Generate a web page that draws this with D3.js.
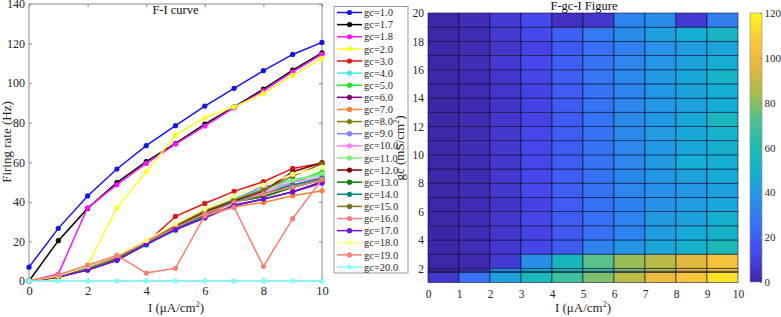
<!DOCTYPE html>
<html lang="en">
<head>
<meta charset="UTF-8">
<title>F-I curve / F-gc-I Figure</title>
<script src="https://d3js.org/d3.v7.min.js"></script>
<style>
body{margin:0;background:#fff}
svg{display:block}
svg text{font-family:"Liberation Serif","Times New Roman",serif}
.axis path{stroke:#8a8a8a}
.axis line{stroke:#8a8a8a}
.axis text{fill:#262626}
</style>
</head>
<body>
<svg id="chart" width="781" height="317"></svg>
<script>
// stimulus currents (µA/cm²) and coupling strengths (mS/cm²)
const currents = [0, 1, 2, 3, 4, 5, 6, 7, 8, 9, 10];
const gcLevels = [1.0, 1.7, 1.8, 2.0, 3.0, 4.0, 5.0, 6.0, 7.0, 8.0, 9.0, 10.0,
                  11.0, 12.0, 13.0, 14.0, 15.0, 16.0, 17.0, 18.0, 19.0, 20.0];

// firing rate (Hz) for each gc, one value per current step
const fr_1_0  = [7, 26.6, 43, 56.6, 68.4, 78.5, 88.4, 97.4, 106.3, 114.5, 120.6];
const fr_1_7  = [0, 20.4, 36.7, 49.7, 60.3, 69.5, 79.3, 88, 97, 106.6, 115.3];
const fr_1_8  = [0, 3.5, 37, 48.7, 59.4, 69.2, 78.3, 87.6, 96.1, 105.7, 114.5];
const fr_2_0  = [0, 1, 8, 37, 55.2, 73.7, 82.5, 88, 94.8, 103.9, 112.5];
const fr_3_0  = [0, 2.5, 7, 12, 19, 32.7, 39.2, 45.3, 50.2, 56.9, 59.5];
const fr_4_0  = [0, 2.5, 6.5, 11, 18, 26, 33, 41.8, 46.5, 51.4, 53.5];
const fr_5_0  = [0, 2.5, 6.5, 11.5, 19, 25.5, 33, 40.9, 43.4, 49.8, 55.2];
const fr_6_0  = [0, 2, 5.5, 10.5, 18.5, 26, 32, 38.4, 41.3, 45.1, 50.2];
const fr_7_0  = [0, 2.5, 7, 12.5, 19.5, 27, 34, 37.5, 39.7, 43.1, 45.6];
const fr_8_0  = [0, 2.5, 7, 12, 19.5, 27.5, 35, 40, 42.6, 47.3, 51.4];
const fr_9_0  = [0, 2.5, 7, 12, 19, 27, 34, 41, 48, 48.5, 52];
const fr_10_0 = [0, 2.5, 7, 12, 19, 27, 34, 40.5, 45, 50, 52.5];
const fr_11_0 = [0, 2.5, 7, 12, 19, 27, 35, 41.5, 46, 51, 54];
const fr_12_0 = [0, 2, 6, 11, 19, 27.5, 35, 40.5, 45.5, 55.2, 59.8];
const fr_13_0 = [0, 2, 6, 11, 19, 27, 34, 40, 42.6, 47.5, 51];
const fr_14_0 = [0, 2, 6, 11, 18.5, 26.5, 33.5, 40, 44, 48.5, 52];
const fr_15_0 = [0, 2, 6, 11.5, 19.5, 28, 35.5, 41, 46, 53, 59.2];
const fr_16_0 = [0, 3, 7.5, 12.5, 19.5, 27, 34, 39.5, 44, 47.5, 51];
const fr_17_0 = [0, 2, 5.5, 10.5, 18.5, 26, 32, 38, 41.5, 45, 49.5];
const fr_18_0 = [0, 2.5, 7.5, 13, 20.5, 29, 36.5, 43, 48.5, 54, 57.4];
const fr_19_0 = [0, 3, 8, 13, 4, 6.4, 33, 37.2, 7.4, 31.5, 51.4];
const fr_20_0 = [0, 0, 0, 0, 0, 0, 0, 0, 0, 0, 0];

const rateRows = [fr_1_0, fr_1_7, fr_1_8, fr_2_0, fr_3_0, fr_4_0, fr_5_0, fr_6_0,
  fr_7_0, fr_8_0, fr_9_0, fr_10_0, fr_11_0, fr_12_0, fr_13_0, fr_14_0, fr_15_0,
  fr_16_0, fr_17_0, fr_18_0, fr_19_0, fr_20_0];

const lineColors = ['#1414f0', '#000000', '#ff10ff', '#ffff1a', '#e81414', '#40e8e8',
  '#28e028', '#80007a', '#ff8030', '#808000', '#8080ff', '#ff80ff', '#80f080',
  '#800000', '#008000', '#008080', '#807010', '#f08080', '#7010e0', '#ffff80',
  '#f88070', '#80ffff'];

const yTicksLeft = [0, 20, 40, 60, 80, 100, 120, 140];
const xTicksLeft = [0, 2, 4, 6, 8, 10];
const yTicksHeat = [2, 4, 6, 8, 10, 12, 14, 16, 18, 20];
const cbTicks = [0, 20, 40, 60, 80, 100, 120];

// parula-like colormap stops
const parulaStops = ['#3e26a8', '#4746eb', '#3a6cf6', '#2a8ceb', '#15aed4', '#1cbcb0',
  '#4cc194', '#a5be4c', '#e6b83c', '#fcc83a', '#f9fb14'];

const svg = d3.select('#chart');

// ---------- left: F-I curve ----------
const x = d3.scaleLinear().domain([0, 10]).range([29, 322]);
const y = d3.scaleLinear().domain([0, 140]).range([281, 4]);

svg.append('rect').attr('x', 29).attr('y', 4).attr('width', 293).attr('height', 277)
  .attr('fill', '#fff').attr('stroke', '#8a8a8a');

svg.append('g').attr('class', 'axis').attr('transform', 'translate(0,281)')
  .call(d3.axisBottom(x).tickValues(xTicksLeft).tickSizeInner(-3).tickSizeOuter(0).tickPadding(5))
  .call(g => g.select('.domain').remove())
  .selectAll('text').attr('font-size', 12.5);
svg.append('g').attr('class', 'axis').attr('transform', 'translate(0,4)')
  .call(d3.axisTop(x).tickValues(xTicksLeft).tickSizeInner(-3).tickSizeOuter(0).tickFormat(''))
  .call(g => g.select('.domain').remove());
svg.append('g').attr('class', 'axis').attr('transform', 'translate(29,0)')
  .call(d3.axisLeft(y).tickValues(yTicksLeft).tickSizeInner(-3).tickSizeOuter(0).tickPadding(4))
  .call(g => g.select('.domain').remove())
  .selectAll('text').attr('font-size', 12);
svg.append('g').attr('class', 'axis').attr('transform', 'translate(322,0)')
  .call(d3.axisRight(y).tickValues(yTicksLeft).tickSizeInner(-3).tickSizeOuter(0).tickFormat(''))
  .call(g => g.select('.domain').remove());

const line = d3.line().x((d, i) => x(currents[i])).y(d => y(d));
const series = svg.append('g').selectAll('g').data(rateRows).join('g');
series.append('path')
  .attr('d', d => line(d))
  .attr('fill', 'none')
  .attr('stroke', (d, i) => lineColors[i])
  .attr('stroke-width', 1.5);
series.each(function (d, k) {
  d3.select(this).selectAll('circle').data(d).join('circle')
    .attr('cx', (v, i) => x(currents[i]))
    .attr('cy', v => y(v))
    .attr('r', 2.6)
    .attr('fill', lineColors[k]);
});

svg.append('text').attr('x', 175.5).attr('y', 14).attr('text-anchor', 'middle')
  .attr('font-size', 12.5).attr('fill', '#111').text('F-I curve');

function unitLabel(sel, base, close) {
  sel.append('tspan').text(base);
  sel.append('tspan').attr('dy', -5).attr('font-size', 8).text('2');
  sel.append('tspan').attr('dy', 5).text(close);
}

svg.append('text').attr('x', 176).attr('y', 312).attr('text-anchor', 'middle')
  .attr('font-size', 13).attr('fill', '#262626')
  .call(unitLabel, 'I (\u03bcA/cm', ')');
svg.append('text').attr('transform', 'translate(10.5,142) rotate(-90)')
  .attr('text-anchor', 'middle').attr('font-size', 13).attr('fill', '#262626')
  .text('Firing rate (Hz)');

// legend
const legY = d3.scalePoint().domain(gcLevels.map(String)).range([12.5, 267]);
const leg = svg.append('g');
leg.append('rect').attr('x', 334).attr('y', 6.5).attr('width', 74).attr('height', 266.5)
  .attr('fill', '#fff').attr('stroke', '#9a9a9a');
const items = leg.selectAll('g.item').data(gcLevels).join('g').attr('class', 'item')
  .attr('transform', d => `translate(0,${legY(String(d))})`);
items.append('line').attr('x1', 337).attr('x2', 362)
  .attr('stroke', (d, i) => lineColors[i]).attr('stroke-width', 1.5);
items.append('circle').attr('cx', 349.5).attr('r', 2.6).attr('fill', (d, i) => lineColors[i]);
items.append('text').attr('x', 364).attr('dy', '0.35em').attr('font-size', 10.5)
  .attr('fill', '#262626').text(d => 'gc=' + d.toFixed(1));

// ---------- right: F-gc-I heatmap ----------
const hx = d3.scaleLinear().domain([0, 10]).range([428, 738]);
const hy = d3.scaleLinear().domain([1, 20]).range([282.5, 13]);
const color = d3.scaleLinear()
  .domain(parulaStops.map((c, i) => 120 * i / (parulaStops.length - 1)))
  .range(parulaStops).interpolate(d3.interpolateRgb).clamp(true);

const cells = [];
for (let r = 0; r < gcLevels.length - 1; r++) {
  for (let c = 0; c < currents.length - 1; c++) {
    cells.push({ r, c, v: rateRows[r][c] });
  }
}
svg.append('g').selectAll('rect').data(cells).join('rect')
  .attr('x', d => hx(currents[d.c]))
  .attr('y', d => hy(gcLevels[d.r + 1]))
  .attr('width', d => hx(currents[d.c + 1]) - hx(currents[d.c]))
  .attr('height', d => hy(gcLevels[d.r]) - hy(gcLevels[d.r + 1]))
  .attr('fill', d => color(d.v))
  .attr('stroke', '#0a0a30').attr('stroke-opacity', 0.7).attr('stroke-width', 0.8);

svg.append('g').attr('class', 'axis heat').attr('transform', 'translate(0,282.5)')
  .call(d3.axisBottom(hx).tickValues(currents).tickSize(0).tickPadding(7))
  .call(g => g.select('.domain').remove())
  .selectAll('text').attr('font-size', 11.5);
svg.append('g').attr('class', 'axis heat').attr('transform', 'translate(428,0)')
  .call(d3.axisLeft(hy).tickValues(yTicksHeat).tickSize(0).tickPadding(4))
  .call(g => g.select('.domain').remove())
  .selectAll('text').attr('font-size', 11.5);

svg.append('text').attr('x', 584).attr('y', 10).attr('text-anchor', 'middle')
  .attr('font-size', 12.5).attr('fill', '#111').text('F-gc-I Figure');
svg.append('text').attr('x', 583).attr('y', 312).attr('text-anchor', 'middle')
  .attr('font-size', 13).attr('fill', '#262626')
  .call(unitLabel, 'I (\u03bcA/cm', ')');
svg.append('text').attr('transform', 'translate(403.5,148) rotate(-90)')
  .attr('text-anchor', 'middle').attr('font-size', 13).attr('fill', '#262626')
  .call(unitLabel, 'gc (mS/cm', ')');

// colorbar
const cy = d3.scaleLinear().domain([0, 120]).range([282, 13]);
const grad = svg.append('defs').append('linearGradient').attr('id', 'parula')
  .attr('x1', 0).attr('y1', 1).attr('x2', 0).attr('y2', 0);
grad.selectAll('stop').data(parulaStops).join('stop')
  .attr('offset', (d, i) => i / (parulaStops.length - 1))
  .attr('stop-color', d => d);
svg.append('rect').attr('x', 750).attr('y', cy(120)).attr('width', 12)
  .attr('height', cy(0) - cy(120)).attr('fill', 'url(#parula)')
  .attr('stroke', '#8a8a8a').attr('stroke-width', 0.6);
svg.append('g').attr('class', 'axis').attr('transform', 'translate(762,0)')
  .call(d3.axisRight(cy).tickValues(cbTicks).tickSizeInner(-2).tickSizeOuter(0).tickPadding(2.5))
  .call(g => g.select('.domain').remove())
  .selectAll('text').attr('font-size', 11);
</script>
</body>
</html>
